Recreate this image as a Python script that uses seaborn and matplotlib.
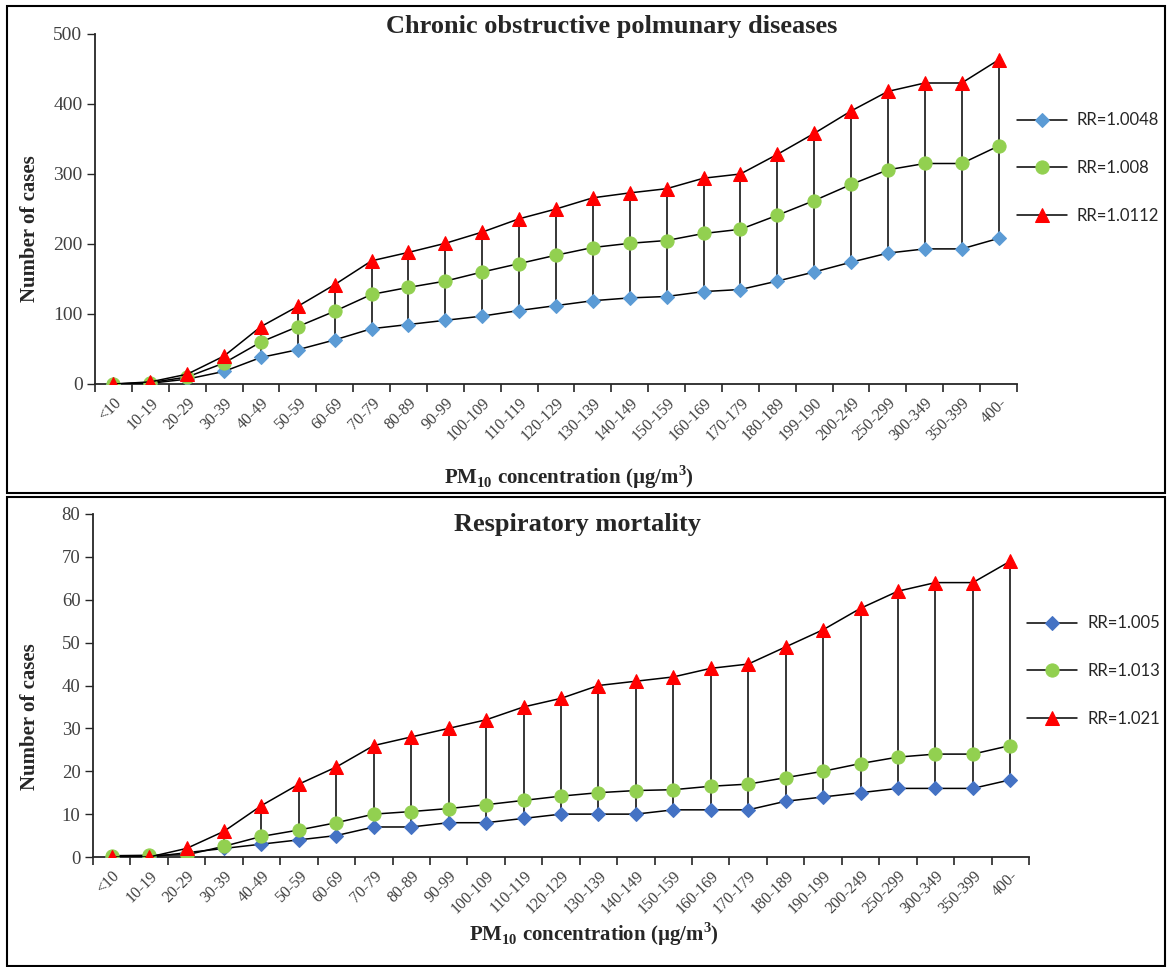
import numpy as np
import pandas as pd
import matplotlib
matplotlib.use("Agg")
import matplotlib.pyplot as plt
from matplotlib.patches import Rectangle
import seaborn as sns

cats_top = ["<10", "10-19", "20-29", "30-39", "40-49", "50-59", "60-69", "70-79",
            "80-89", "90-99", "100-109", "110-119", "120-129", "130-139", "140-149",
            "150-159", "160-169", "170-179", "180-189", "199-190", "200-249",
            "250-299", "300-349", "350-399", "400-"]
cats_bottom = cats_top[:19] + ["190-199"] + cats_top[20:]

copd_low = [0, 1, 7, 18, 38, 49, 63, 79, 85, 91, 97, 105, 112, 119, 123, 125,
            132, 135, 147, 160, 174, 187, 193, 193, 208]
copd_mid = [0, 2, 10, 30, 60, 82, 104, 128, 138, 147, 160, 172, 184, 195, 201,
            205, 215, 221, 241, 262, 285, 306, 315, 315, 340]
copd_high = [0, 3, 14, 40, 82, 111, 142, 176, 188, 201, 217, 236, 250, 266, 273,
             279, 294, 300, 328, 358, 390, 418, 430, 430, 463]
copd_labels = ["RR=1.0048", "RR=1.008", "RR=1.0112"]

resp_low = [0, 0, 1, 2, 3, 4, 5, 7, 7, 8, 8, 9, 10, 10, 10, 11, 11, 11, 13, 14,
            15, 16, 16, 16, 18]
resp_mid = [0.3, 0.4, 0.5, 2.5, 4.8, 6.3, 8, 10, 10.6, 11.3, 12.2, 13.2, 14.2,
            15, 15.5, 15.7, 16.5, 17, 18.5, 20, 21.8, 23.3, 24, 24, 26]
resp_high = [0, 0, 2, 6, 12, 17, 21, 26, 28, 30, 32, 35, 37, 40, 41, 42, 44, 45,
             49, 53, 58, 62, 64, 64, 69]
resp_labels = ["RR=1.005", "RR=1.013", "RR=1.021"]

sns.set_style("ticks")
plt.rcParams["font.family"] = ["Liberation Serif", "DejaVu Serif"]
plt.rcParams["mathtext.fontset"] = "custom"
plt.rcParams["mathtext.rm"] = "Liberation Serif"
plt.rcParams["mathtext.bf"] = "Liberation Serif:bold"

fig = plt.figure(figsize=(11.68, 9.67), dpi=100)
W, H = 1168, 967


def px_axes(left, top, right, bottom):
    return fig.add_axes([left / W, 1 - bottom / H, (right - left) / W, (bottom - top) / H])


def draw_panel(ax, cats, low, mid, high, labels, colors, ymax, ystep, ysize,
               title, title_xy, xlab_xy, ylab_xy, leg_xy):
    pos = np.arange(len(cats))
    ax.vlines(pos, low, high, color="black", lw=1.1, zorder=1)
    styles = [("D", 7), ("o", 9.5), ("^", 9.5)]
    for vals, lab, c, (m, ms) in zip([low, mid, high], labels, colors, styles):
        df = pd.DataFrame({"x": pos, "y": vals})
        sns.lineplot(data=df, x="x", y="y", ax=ax, color="black", lw=1.1,
                     marker=m, markersize=ms, markerfacecolor=c, markeredgecolor=c,
                     label=lab, zorder=3)
    ax.set_xlim(-0.5, len(cats) - 0.5)
    ax.set_ylim(0, ymax)
    ax.set_yticks(np.arange(0, ymax + 1, ystep))
    ax.set_xticks(np.arange(-0.5, len(cats) + 0.5, 1))
    ax.set_xticklabels([])
    ax.set_xticks(pos, minor=True)
    ax.set_xticklabels(cats, minor=True, rotation=45, ha="right", rotation_mode="anchor",
                       fontsize=11.5, color="#404040")
    ax.tick_params(axis="x", which="minor", length=0, pad=8)
    ax.tick_params(axis="x", which="major", length=6, width=1.2, direction="out")
    ax.tick_params(axis="y", length=6, width=1, labelsize=ysize, labelcolor="#404040", pad=3)
    for s in ["top", "right"]:
        ax.spines[s].set_visible(False)
    for s in ["left", "bottom"]:
        ax.spines[s].set_linewidth(1.3)
    ax.set_xlabel("PM$_{\\mathbf{10}}$ concentration (µg/m$^{\\mathbf{3}}$)",
                  fontsize=15, fontweight="bold")
    ax.xaxis.set_label_coords(*xlab_xy)
    ax.set_ylabel("Number of cases", fontsize=15, fontweight="bold")
    ax.yaxis.set_label_coords(*ylab_xy)
    fig.text(title_xy[0] / W, 1 - title_xy[1] / H, title, ha="center", va="center",
             fontsize=19, fontweight="bold")
    ax.legend(loc="center left", bbox_to_anchor=leg_xy, frameon=False,
              prop={"family": "Lato", "size": 12}, labelspacing=1.9, handlelength=3.0,
              handletextpad=0.6, borderaxespad=0, borderpad=0)


ax1 = px_axes(95, 34, 1017, 384)
draw_panel(ax1, cats_top, copd_low, copd_mid, copd_high, copd_labels,
           ["#5B9BD5", "#92D050", "#FF0000"], 500, 100, 14,
           "Chronic obstructive polmunary diseases", (612, 27),
           (0.514, -0.226), (-0.060, 0.443), (1.0, 0.617))

ax2 = px_axes(93, 514, 1029, 857)
draw_panel(ax2, cats_bottom, resp_low, resp_mid, resp_high, resp_labels,
           ["#4472C4", "#92D050", "#FF0000"], 80, 10, 13.5,
           "Respiratory mortality", (577, 525),
           (0.535, -0.184), (-0.0566, 0.41), (0.998, 0.542))

fig.add_artist(Rectangle((7 / W, 1 - 493 / H), 1158 / W, 487 / H, transform=fig.transFigure,
                         fill=False, lw=1.5, ec="black"))
fig.add_artist(Rectangle((7 / W, 0.001), 1158 / W, (967 - 498) / H, transform=fig.transFigure,
                         fill=False, lw=1.5, ec="black"))

fig.savefig("out.png", dpi=100)
